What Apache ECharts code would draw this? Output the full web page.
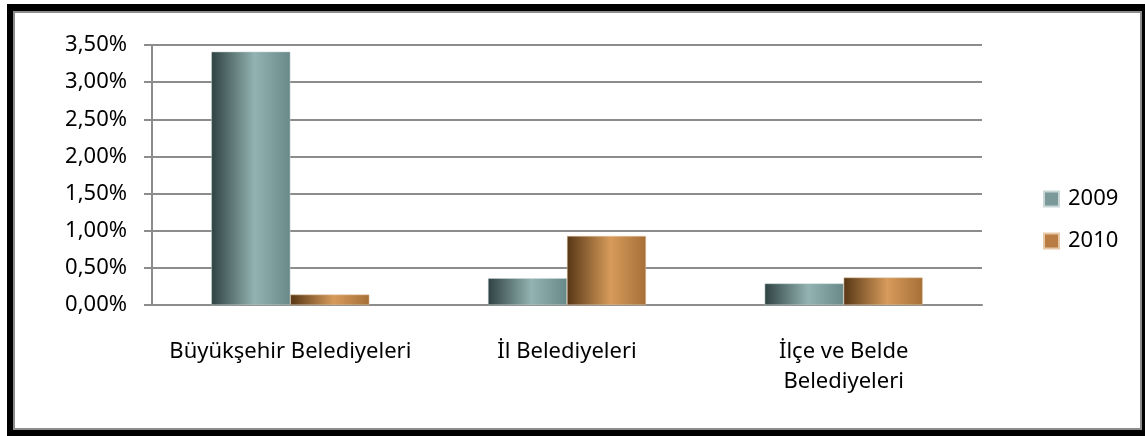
<!DOCTYPE html>
<html>
<head>
<meta charset="utf-8">
<script src="https://cdn.jsdelivr.net/npm/echarts@6/dist/echarts.min.js"></script>
<style>
  html, body { margin: 0; padding: 0; background: #fff; }
  #chart { position: absolute; left: 0; top: 0; width: 1145px; height: 436px; }
  .frame { position: absolute; pointer-events: none; box-sizing: border-box; }
</style>
</head>
<body>
<div id="chart"></div>
<div class="frame" style="left:7px;top:4px;width:1138px;height:432px;border-style:solid;border-color:#000;border-width:7px 3px 6px 6px;"></div>
<div class="frame" style="left:13px;top:11px;width:1129px;height:419px;border:2px solid #8c8c8c;"></div>
<script>
const categories = ['Büyükşehir Belediyeleri', 'İl Belediyeleri', 'İlçe ve Belde\nBelediyeleri'];
const values2009 = [3.41, 0.36, 0.29];
const values2010 = [0.14, 0.93, 0.37];
const yTicks = { min: 0, max: 3.5, interval: 0.5 };

const font = '"Noto Sans", "DejaVu Sans", sans-serif';

function barGradient(c0, c1, c2) {
  return new echarts.graphic.LinearGradient(0, 0, 1, 0, [
    { offset: 0, color: c0 },
    { offset: 0.55, color: c1 },
    { offset: 1, color: c2 },
  ]);
}

const myChart = echarts.init(document.getElementById('chart'));
const option = {
  animation: false,
  grid: { left: 152, right: 163, top: 45, bottom: 131 },
  legend: {
    orient: 'vertical',
    left: 1038,
    top: 183,
    icon: 'rect',
    itemWidth: 15,
    itemHeight: 15,
    itemGap: 20,
    textStyle: { fontFamily: font, fontSize: 22, color: '#000', padding: [0, 0, 0, 4] },
    data: [
      { name: '2009', itemStyle: { color: '#7b9999' } },
      { name: '2010', itemStyle: { color: '#b97d44' } },
    ],
  },
  xAxis: {
    type: 'category',
    data: categories,
    axisLine: { lineStyle: { color: '#8c8c8c', width: 2 } },
    axisTick: { length: 8, lineStyle: { color: '#8c8c8c', width: 2 } },
    axisLabel: {
      interval: 0,
      margin: 32,
      fontFamily: font,
      fontSize: 22,
      color: '#000',
      lineHeight: 30,
    },
  },
  yAxis: {
    type: 'value',
    min: yTicks.min,
    max: yTicks.max,
    interval: yTicks.interval,
    axisLine: { show: true, lineStyle: { color: '#8c8c8c', width: 2 } },
    axisTick: { show: true, length: 8, lineStyle: { color: '#8c8c8c', width: 2 } },
    splitLine: { lineStyle: { color: '#8c8c8c', width: 2 } },
    axisLabel: {
      margin: 25,
      fontFamily: font,
      fontSize: 22,
      color: '#000',
      formatter: (v) => v.toFixed(2).replace('.', ',') + '%',
    },
  },
  series: [
    {
      name: '2009',
      type: 'bar',
      data: values2009,
      barWidth: 79,
      barGap: '0%',
      itemStyle: {
        color: barGradient('#2f4242', '#93b3b2', '#688988'),
        borderColor: '#c8d6d6',
        borderWidth: 0.5,
      },
    },
    {
      name: '2010',
      type: 'bar',
      data: values2010,
      barWidth: 79,
      itemStyle: {
        color: barGradient('#573715', '#d79b5b', '#a66f37'),
        borderColor: '#e6c8a6',
        borderWidth: 0.5,
      },
    },
  ],
};
myChart.setOption(option);
</script>
</body>
</html>
